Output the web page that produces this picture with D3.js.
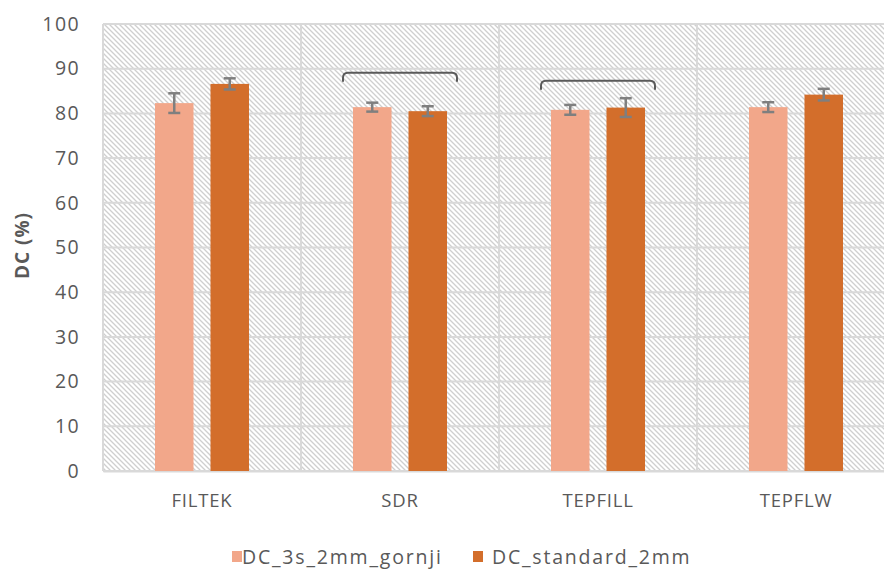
<!DOCTYPE html>
<html>
<head>
<meta charset="utf-8">
<script src="https://cdn.jsdelivr.net/npm/d3@7"></script>
<style>
  body { margin: 0; background: #fff; }
  text { font-family: "Open Sans", sans-serif; fill: #595959; }
</style>
</head>
<body>
<div id="graph"></div>
<script>
// values
var categories = ["FILTEK", "SDR", "TEPFILL", "TEPFLW"];
var seriesNames = ["DC_3s_2mm_gornji", "DC_standard_2mm"];
var seriesColors = ["#F2A78A", "#D36E2B"];
var gornjiValues = [82.3, 81.4, 80.8, 81.4];
var gornjiErrors = [2.2, 1.0, 1.1, 1.1];
var standardValues = [86.6, 80.5, 81.3, 84.2];
var standardErrors = [1.25, 1.1, 2.1, 1.3];
var yTicks = [0, 10, 20, 30, 40, 50, 60, 70, 80, 90, 100];
var bracketGroups = ["SDR", "TEPFILL"];
var bracketLevels = [89.1, 87.3];

var svgWidth = 884, svgHeight = 569;
var chartMargin = { top: 24, left: 103, bottom: 98 };
var plotRight = 895; // plot runs past the right edge of the picture
var chartHeight = svgHeight - chartMargin.top - chartMargin.bottom;

var svg = d3.select("#graph").append("svg")
  .attr("width", svgWidth)
  .attr("height", svgHeight);

var defs = svg.append("defs");
var pattern = defs.append("pattern")
  .attr("id", "hatch")
  .attr("patternUnits", "userSpaceOnUse")
  .attr("width", 5)
  .attr("height", 5);
pattern.append("rect").attr("width", 5).attr("height", 5).attr("fill", "#fff");
pattern.append("path")
  .attr("d", "M-1,-1 L6,6 M-1,4 L1,6 M4,-1 L6,1")
  .attr("stroke", "#cfcfcf")
  .attr("stroke-width", 1.3);

var x0 = d3.scaleBand()
  .domain(categories)
  .range([chartMargin.left, plotRight])
  .padding(0);

var x1 = d3.scaleBand()
  .domain(seriesNames)
  .range([0, 94])
  .paddingInner(0.306);

var y = d3.scaleLinear()
  .domain([0, 100])
  .range([chartMargin.top + chartHeight, chartMargin.top]);

// hatched plot background
svg.append("rect")
  .attr("x", chartMargin.left)
  .attr("y", y(100))
  .attr("width", plotRight - chartMargin.left)
  .attr("height", y(0) - y(100))
  .attr("fill", "url(#hatch)");

// horizontal gridlines
svg.append("g").selectAll("line")
  .data(yTicks)
  .enter().append("line")
  .attr("x1", chartMargin.left)
  .attr("x2", plotRight)
  .attr("y1", function(d) { return y(d); })
  .attr("y2", function(d) { return y(d); })
  .attr("stroke", "#d9d9d9")
  .attr("stroke-width", 2);

// vertical gridlines between categories
svg.append("g").selectAll("line")
  .data(categories)
  .enter().append("line")
  .attr("x1", function(d) { return x0(d); })
  .attr("x2", function(d) { return x0(d); })
  .attr("y1", y(100))
  .attr("y2", y(0))
  .attr("stroke", "#d9d9d9")
  .attr("stroke-width", 2);

// y axis tick labels
var yAxis = d3.axisLeft(y).tickValues(yTicks).tickSize(0).tickPadding(23);
var yAxisG = svg.append("g")
  .attr("transform", "translate(" + chartMargin.left + ",0)")
  .call(yAxis);
yAxisG.select(".domain").remove();
yAxisG.selectAll("text")
  .style("font-size", "19.5px")
  .style("letter-spacing", "1.4px")
  .style("fill", "#595959");

// x axis labels
var xAxis = d3.axisBottom(x0).tickSize(0).tickPadding(23);
var xAxisG = svg.append("g")
  .attr("transform", "translate(0," + y(0) + ")")
  .call(xAxis);
xAxisG.select(".domain")
  .attr("stroke", "#d9d9d9")
  .attr("stroke-width", 2);
xAxisG.selectAll("text")
  .style("font-size", "18.5px")
  .style("letter-spacing", "0.8px")
  .style("fill", "#595959");

// y axis title
svg.append("text")
  .attr("transform", "translate(29," + (y(50) - 2) + ") rotate(-90)")
  .attr("text-anchor", "middle")
  .style("font-size", "19px")
  .style("letter-spacing", "1px")
  .style("font-weight", "bold")
  .text("DC (%)");

// bars
var rows = categories.map(function(c, i) {
  return [
    { cat: c, name: seriesNames[0], value: gornjiValues[i], err: gornjiErrors[i], color: seriesColors[0] },
    { cat: c, name: seriesNames[1], value: standardValues[i], err: standardErrors[i], color: seriesColors[1] }
  ];
});

var groups = svg.append("g").selectAll("g")
  .data(rows)
  .enter().append("g")
  .attr("transform", function(d) {
    return "translate(" + (x0(d[0].cat) + x0.bandwidth() / 2 - 47) + ",0)";
  });

groups.selectAll("rect")
  .data(function(d) { return d; })
  .enter().append("rect")
  .attr("x", function(d) { return x1(d.name); })
  .attr("y", function(d) { return y(d.value); })
  .attr("width", x1.bandwidth())
  .attr("height", function(d) { return y(0) - y(d.value); })
  .attr("fill", function(d) { return d.color; });

// error bars
var errG = groups.selectAll("g.err")
  .data(function(d) { return d; })
  .enter().append("g")
  .attr("class", "err")
  .attr("stroke", "#7f7f7f")
  .attr("stroke-width", 2.5);

errG.append("line")
  .attr("x1", function(d) { return x1(d.name) + x1.bandwidth() / 2; })
  .attr("x2", function(d) { return x1(d.name) + x1.bandwidth() / 2; })
  .attr("y1", function(d) { return y(d.value + d.err); })
  .attr("y2", function(d) { return y(d.value - d.err); });

[1, -1].forEach(function(sign) {
  errG.append("line")
    .attr("x1", function(d) { return x1(d.name) + x1.bandwidth() / 2 - 6; })
    .attr("x2", function(d) { return x1(d.name) + x1.bandwidth() / 2 + 6; })
    .attr("y1", function(d) { return y(d.value + sign * d.err); })
    .attr("y2", function(d) { return y(d.value + sign * d.err); });
});

// brackets over SDR and TEPFILL
bracketGroups.forEach(function(g, i) {
  var cx = x0(g) + x0.bandwidth() / 2;
  var top = y(bracketLevels[i]);
  var half = 57, drop = 9, r = 5;
  var path = d3.path();
  path.moveTo(cx - half, top + drop);
  path.lineTo(cx - half, top + r);
  path.quadraticCurveTo(cx - half, top, cx - half + r, top);
  path.lineTo(cx + half - r, top);
  path.quadraticCurveTo(cx + half, top, cx + half, top + r);
  path.lineTo(cx + half, top + drop);
  svg.append("path")
    .attr("d", path.toString())
    .attr("fill", "none")
    .attr("stroke", "#595959")
    .attr("stroke-width", 2);
});

// legend
var legendX = [232, 473];
var legend = svg.append("g").selectAll("g")
  .data(seriesNames)
  .enter().append("g")
  .attr("transform", function(d, i) { return "translate(" + legendX[i] + ",551)"; });

legend.append("rect")
  .attr("width", 10)
  .attr("height", 11)
  .attr("fill", function(d, i) { return seriesColors[i]; });

legend.append("text")
  .attr("x", function(d, i) { return i === 0 ? 10 : 19; })
  .attr("y", 13)
  .style("font-size", "19.5px")
  .style("letter-spacing", "1.8px")
  .text(function(d) { return d; });
</script>
</body>
</html>
